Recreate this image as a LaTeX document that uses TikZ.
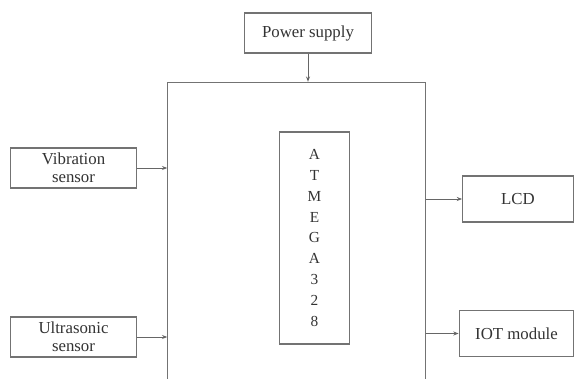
\documentclass[tikz,border=0pt]{standalone}
\usepackage{fontspec}
\setmainfont{Liberation Serif}
\usetikzlibrary{arrows.meta, positioning}

\tikzset{
	block/.style = {draw = black!55, line width = 0.8pt, text = black!80, align = center,
		inner sep = 0pt, font = \fontsize{12.6}{13.5}\selectfont},
	link/.style = {-{Stealth[length = 4pt, width = 3pt]}, draw = black!60, line width = 0.7pt}
}

\begin{document}
\begin{tikzpicture}[x = 0.75pt, y = -0.75pt]
	\clip (0, 0) rectangle (574, 378);
	\fill[white] (0, 0) rectangle (574, 378);
	
	\node[block, minimum width = 193pt, minimum height = 232pt] (mcu) at (296.5, 237) {};
	\node[block, minimum width = 52pt, minimum height = 159pt, font = \fontsize{11.5}{15.7}\selectfont] (chip) at (314.5, 238)
		{A\\T\\M\\E\\G\\A\\3\\2\\8};
	
	\node[block, minimum width = 95pt, minimum height = 30pt] (power) at (308, 33) {Power supply};
	\node[block, minimum width = 95pt, minimum height = 30pt] (vib) at (73.5, 168) {Vibration\\sensor};
	\node[block, minimum width = 95pt, minimum height = 30pt] (ultra) at (73.5, 337) {Ultrasonic\\sensor};
	\node[block, minimum width = 83pt, minimum height = 34.5pt] (lcd) at (518, 199) {LCD};
	\node[block, minimum width = 86pt, minimum height = 35pt] (iot) at (516.5, 333.5) {IOT module};
	
	\draw[link] (power.south) -- (power.south |- mcu.north);
	\draw[link] (vib.east) -- (vib.east -| mcu.west);
	\draw[link] (ultra.east) -- (ultra.east -| mcu.west);
	\draw[link] (mcu.east |- lcd.west) -- (lcd.west);
	\draw[link] (mcu.east |- iot.west) -- (iot.west);
\end{tikzpicture}
\end{document}
